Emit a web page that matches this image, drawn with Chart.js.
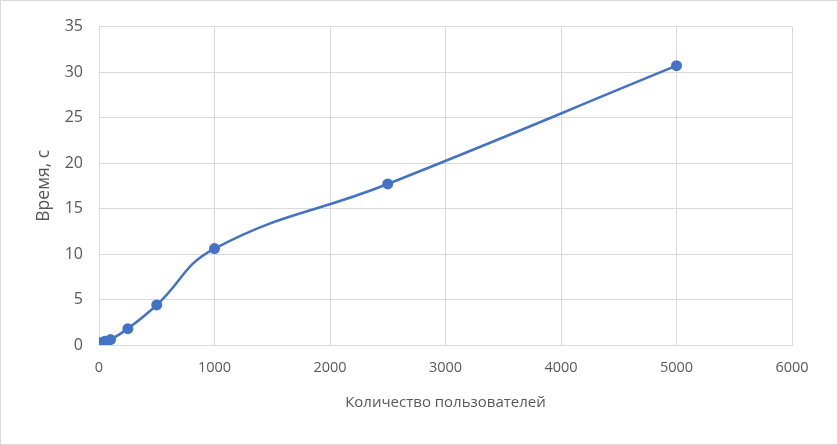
<!DOCTYPE html>
<html>
<head>
<meta charset="utf-8">
<script src="https://cdn.jsdelivr.net/npm/chart.js@4"></script>
<style>
  html,body{margin:0;padding:0;background:#fff;}
  #wrap{position:relative;width:838px;height:445px;box-sizing:border-box;border:1px solid #d9d9d9;}
  canvas{position:absolute;left:0;top:0;}
</style>
</head>
<body>
<div id="wrap"><canvas id="chart" width="836" height="443"></canvas></div>
<script>
/* данные */
const users = [1, 10, 50, 100, 250, 500, 1000, 2500, 5000];
const seconds = [0.2, 0.25, 0.4, 0.6, 1.8, 4.4, 10.6, 17.7, 30.7];
const xTitle = "Количество пользователей";
const yTitle = "Время, с";

const BLUE = "#4472C4";
const GRID = "#d9d9d9";
const TXT = "#595959";
const FONT = "'Open Sans', 'Liberation Sans', sans-serif";

const points = users.map((u,i)=>({x:u,y:seconds[i]}));

new Chart(document.getElementById("chart"),{
  type:"line",
  data:{datasets:[{
    data:points,
    borderColor:BLUE,
    backgroundColor:BLUE,
    borderWidth:2.5,
    pointRadius:5.5,
    pointHoverRadius:5.5,
    pointBorderWidth:0,
    tension:0.45,
    fill:false
  }]},
  options:{
    responsive:false,
    animation:false,
    layout:{padding:{top:24,right:45,bottom:0,left:0}},
    plugins:{legend:{display:false},tooltip:{enabled:false}},
    scales:{
      x:{
        type:"linear",min:0,max:6000,
        ticks:{stepSize:1000,color:TXT,font:{family:FONT,size:14.5},padding:14,maxRotation:0,
          callback:v=>String(v)},
        grid:{color:GRID,drawTicks:false,lineWidth:1},
        border:{color:GRID},
        title:{display:true,text:xTitle,color:TXT,font:{family:FONT,size:15},padding:{top:0,bottom:32}},
        afterFit:s=>{s.height=99;}
      },
      y:{
        min:0,max:35,
        ticks:{stepSize:5,color:TXT,font:{family:FONT,size:16},padding:16},
        grid:{color:GRID,drawTicks:false,lineWidth:1},
        border:{color:GRID},
        title:{display:true,text:yTitle,color:TXT,font:{family:FONT,size:17.5},padding:{top:33,bottom:0}},
        afterFit:s=>{s.width=98;}
      }
    }
  }
});
</script>
</body>
</html>
